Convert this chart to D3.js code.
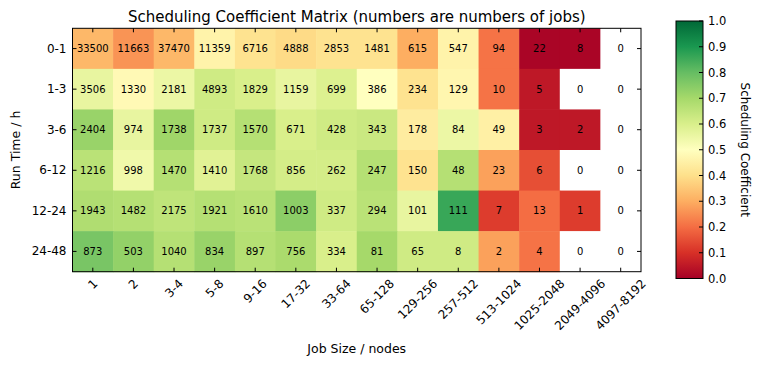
<!DOCTYPE html>
<html><head><meta charset="utf-8">
<script src="https://cdn.jsdelivr.net/npm/d3@7"></script>
<style>body{margin:0;background:#fff}svg{display:block}text{font-family:"DejaVu Sans",sans-serif;fill:#000}</style>
</head><body><svg id="c" width="758" height="365"></svg>
<script>
const jobSizes = ["1","2","3-4","5-8","9-16","17-32","33-64","65-128","129-256","257-512","513-1024","1025-2048","2049-4096","4097-8192"];
const runTimes = ["0-1","1-3","3-6","6-12","12-24","24-48"];
const jobCounts = [
  [33500,11663,37470,11359,6716,4888,2853,1481,615,547,94,22,8,0],
  [3506,1330,2181,4893,1829,1159,699,386,234,129,10,5,0,0],
  [2404,974,1738,1737,1570,671,428,343,178,84,49,3,2,0],
  [1216,998,1470,1410,1768,856,262,247,150,48,23,6,0,0],
  [1943,1482,2175,1921,1610,1003,337,294,101,111,7,13,1,0],
  [873,503,1040,834,897,756,334,81,65,8,2,4,0,0]
];
const coefficients = [
  [0.32,0.26,0.32,0.46,0.41,0.39,0.41,0.41,0.30,0.46,0.21,0.01,0.01,null],
  [0.56,0.48,0.55,0.62,0.60,0.56,0.59,0.50,0.41,0.47,0.21,0.05,null,null],
  [0.72,0.56,0.71,0.62,0.67,0.60,0.62,0.63,0.44,0.55,0.45,0.05,0.05,null],
  [0.66,0.54,0.67,0.58,0.64,0.61,0.61,0.67,0.41,0.67,0.28,0.15,null,null],
  [0.68,0.67,0.65,0.67,0.66,0.74,0.62,0.66,0.56,0.86,0.12,0.20,0.12,null],
  [0.77,0.73,0.67,0.72,0.67,0.69,0.60,0.70,0.62,0.62,0.28,0.21,null,null]
];
const cbTicks = [0,0.1,0.2,0.3,0.4,0.5,0.6,0.7,0.8,0.9,1.0];
const rdylgn = ["#a50026","#d73027","#f46d43","#fdae61","#fee08b","#ffffbf","#d9ef8b","#a6d96a","#66bd63","#1a9850","#006837"];

const svg = d3.select("#c");
const L=72.5, R=641, T=28.3, B=271.7;
const x = d3.scaleBand().domain(jobSizes).range([L,R]);
const y = d3.scaleBand().domain(runTimes).range([T,B]);
const color = d3.scaleLinear().domain(cbTicks).range(rdylgn).clamp(true);

const cells = [];
runTimes.forEach((r,i)=>jobSizes.forEach((c,j)=>cells.push({r,c,n:jobCounts[i][j],v:coefficients[i][j]})));

svg.append("g").selectAll("rect").data(cells).join("rect")
  .attr("x",d=>x(d.c)).attr("y",d=>y(d.r))
  .attr("width",x.bandwidth()+0.5).attr("height",y.bandwidth()+0.5)
  .attr("fill",d=>d.v==null?"#fff":color(d.v));

svg.append("g").selectAll("text").data(cells).join("text")
  .attr("x",d=>x(d.c)+x.bandwidth()/2).attr("y",d=>y(d.r)+y.bandwidth()/2)
  .attr("text-anchor","middle").attr("dominant-baseline","central")
  .style("font-size","10px").text(d=>d.n);

// frame
svg.append("rect").attr("x",L).attr("y",T).attr("width",R-L).attr("height",B-T)
  .attr("fill","none").attr("stroke","#000").attr("stroke-width",1);

// ticks inward
const tk = 4;
const tg = svg.append("g").attr("stroke","#000").attr("stroke-width",1);
jobSizes.forEach(c=>{
  const cx = x(c)+x.bandwidth()/2;
  tg.append("line").attr("x1",cx).attr("x2",cx).attr("y1",B).attr("y2",B-tk);
  tg.append("line").attr("x1",cx).attr("x2",cx).attr("y1",T).attr("y2",T+tk);
});
runTimes.forEach(r=>{
  const cy = y(r)+y.bandwidth()/2;
  tg.append("line").attr("x1",L).attr("x2",L+tk).attr("y1",cy).attr("y2",cy);
  tg.append("line").attr("x1",R).attr("x2",R-tk).attr("y1",cy).attr("y2",cy);
});

// y tick labels
svg.append("g").selectAll("text").data(runTimes).join("text")
  .attr("x",L-6).attr("y",d=>y(d)+y.bandwidth()/2)
  .attr("text-anchor","end").attr("dominant-baseline","central")
  .style("font-size","12px").text(d=>d);

// x tick labels rotated 45, bbox centered on tick
const xl = svg.append("g").selectAll("text").data(jobSizes).join("text")
  .attr("text-anchor","middle").attr("dominant-baseline","central")
  .style("font-size","12px").text(d=>d);
xl.each(function(d){
  const w = this.getComputedTextLength(), h = 11;
  const off = (w+h)/(2*Math.SQRT2);
  d3.select(this).attr("transform",`translate(${x(d)+x.bandwidth()/2},${B+6+off}) rotate(-45)`);
});

// title and axis labels
svg.append("text").attr("x",(L+R)/2).attr("y",22).attr("text-anchor","middle")
  .style("font-size","15px").text("Scheduling Coefficient Matrix (numbers are numbers of jobs)");
svg.append("text").attr("x",(L+R)/2).attr("y",353).attr("text-anchor","middle")
  .style("font-size","12.5px").text("Job Size / nodes");
svg.append("text").attr("transform",`translate(20,${(T+B)/2}) rotate(-90)`).attr("text-anchor","middle")
  .style("font-size","12.5px").text("Run Time / h");

// colorbar
const cbL=676, cbR=703, cbT=21, cbB=278.5;
const cy = d3.scaleLinear().domain([0,1]).range([cbB,cbT]);
const grad = svg.append("defs").append("linearGradient").attr("id","g")
  .attr("x1",0).attr("y1",1).attr("x2",0).attr("y2",0);
grad.selectAll("stop").data(cbTicks).join("stop")
  .attr("offset",d=>d).attr("stop-color",d=>color(d));
svg.append("rect").attr("x",cbL).attr("y",cbT).attr("width",cbR-cbL).attr("height",cbB-cbT)
  .attr("fill","url(#g)").attr("stroke","#000").attr("stroke-width",1);
const cbg = svg.append("g");
cbg.selectAll("line").data(cbTicks).join("line")
  .attr("x1",cbR).attr("x2",cbR-4).attr("y1",d=>cy(d)).attr("y2",d=>cy(d)).attr("stroke","#000");
cbg.selectAll("text").data(cbTicks).join("text")
  .attr("x",cbR+5).attr("y",d=>cy(d)).attr("dominant-baseline","central")
  .style("font-size","11.5px").text(d=>d3.format(".1f")(d));
svg.append("text").attr("transform",`translate(741,${(cbT+cbB)/2}) rotate(90)`).attr("text-anchor","middle")
  .style("font-size","12px").text("Scheduling Coefficient");
</script></body></html>
